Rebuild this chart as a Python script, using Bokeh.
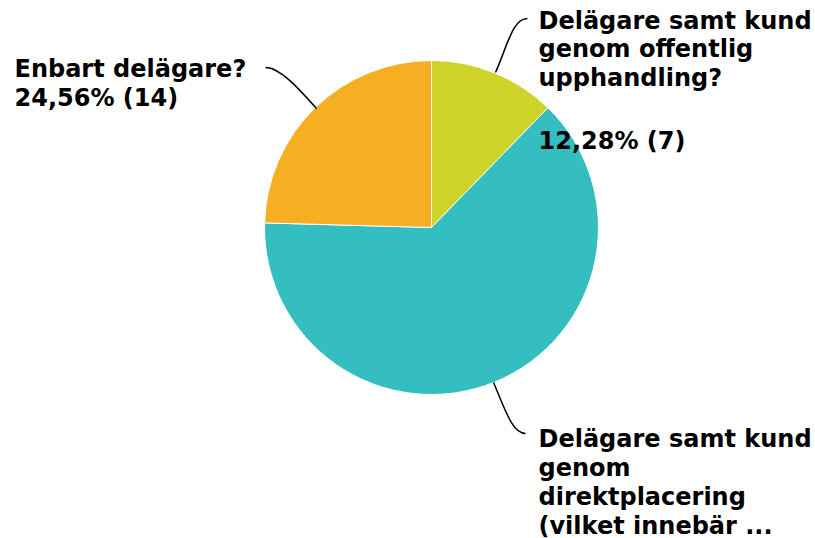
import math
from bokeh.plotting import figure
from bokeh.models import Range1d, ColumnDataSource
from bokeh.core.properties import value
from bokeh.embed import file_html
from bokeh.resources import INLINE

# Data
categories = [
    "Delägare samt kund genom offentlig upphandling?",
    "Delägare samt kund genom direktplacering (vilket innebär ...",
    "Enbart delägare?",
]
counts = [7, 36, 14]
colors = ["#CED32A", "#34BEC0", "#F6AE22"]
label_lines = [
    ["Delägare samt kund", "genom offentlig", "upphandling?", "", "12,28% (7)"],
    ["Delägare samt kund", "genom", "direktplacering", "(vilket innebär ..."],
    ["Enbart delägare?", "24,56% (14)"],
]

W, H = 815, 538
p = figure(width=W, height=H, output_backend="svg", toolbar_location=None,
           x_range=Range1d(0, W), y_range=Range1d(-H, 0),
           min_border=0)
p.axis.visible = False
p.grid.visible = False
p.outline_line_color = None
p.background_fill_color = "white"
p.border_fill_color = "white"

cx, cy, r = 431, -227, 167
total = sum(counts)
starts, ends = [], []
cum = 0
for c in counts:
    starts.append(math.pi / 2 - 2 * math.pi * cum / total)
    cum += c
    ends.append(math.pi / 2 - 2 * math.pi * cum / total)

src = ColumnDataSource(dict(start=starts, end=ends, color=colors))
p.wedge(x=cx, y=cy, radius=r, start_angle="start", end_angle="end",
        direction="clock", fill_color="color", line_color="white",
        line_width=1, source=src)

# connectors
p.bezier(x0=[495, 493, 316], y0=[-72, -382, -108],
         x1=[527, 525, 265], y1=[-18, -433, -67],
         cx0=[507, 505, 300], cy0=[-45, -410, -90],
         cx1=[512, 512, 280], cy1=[-18, -433, -67],
         line_color="black", line_width=1.5)

# labels
xs, ys, ts = [], [], []
positions = [
    (538, [20, 48, 77, 105, 140]),
    (538, [438, 467, 496, 525]),
    (14, [68, 97]),
]
for (lx, lys), lines in zip(positions, label_lines):
    for yy, t in zip(lys, lines):
        if t:
            xs.append(lx)
            ys.append(-yy)
            ts.append(t)
p.text(x=xs, y=ys, text=ts, text_font=value("DejaVu Sans"),
       text_font_style="bold", text_font_size="24px",
       text_baseline="middle", text_align="left", text_color="black")

open("out.html", "w").write(file_html(p, INLINE))
